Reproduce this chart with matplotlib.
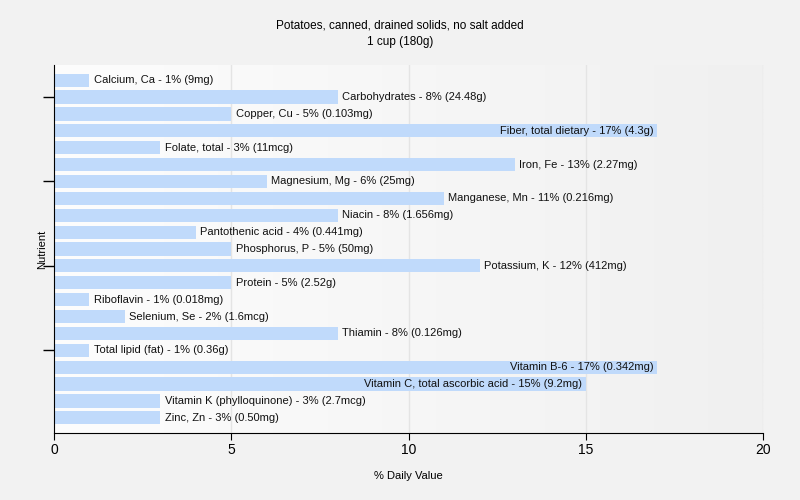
import numpy as np
import matplotlib
matplotlib.use("Agg")
import matplotlib.pyplot as plt

plt.rcParams['font.family'] = ['Liberation Sans', 'DejaVu Sans']

# dati
nutrienti = ["Calcium, Ca", "Carbohydrates", "Copper, Cu", "Fiber, total dietary",
             "Folate, total", "Iron, Fe", "Magnesium, Mg", "Manganese, Mn", "Niacin",
             "Pantothenic acid", "Phosphorus, P", "Potassium, K", "Protein", "Riboflavin",
             "Selenium, Se", "Thiamin", "Total lipid (fat)", "Vitamin B-6",
             "Vitamin C, total ascorbic acid", "Vitamin K (phylloquinone)", "Zinc, Zn"]
percentuali = [1, 8, 5, 17, 3, 13, 6, 11, 8, 4, 5, 12, 5, 1, 2, 8, 1, 17, 15, 3, 3]
quantita = ["9mg", "24.48g", "0.103mg", "4.3g", "11mcg", "2.27mg", "25mg", "0.216mg",
            "1.656mg", "0.441mg", "50mg", "412mg", "2.52g", "0.018mg", "1.6mcg",
            "0.126mg", "0.36g", "0.342mg", "9.2mg", "2.7mcg", "0.50mg"]

fig = plt.figure(figsize=(8, 5), dpi=100, facecolor='#f2f2f2')
ax = fig.add_axes([0.0675, 0.134, 0.8865, 0.736])

y = np.arange(len(nutrienti))
ax.set_xlim(0, 20)
ax.set_ylim(len(nutrienti) - 0.1, -0.9)

# sfondo sfumato
grad = np.linspace(0, 1, 256).reshape(1, -1)
ax.imshow(grad, extent=[0, 20, len(nutrienti) - 0.1, -0.9], aspect='auto',
          cmap=matplotlib.colors.LinearSegmentedColormap.from_list('g', ['#fdfdfd', '#f0f0f0']),
          zorder=0)

for xv in [5, 10, 15, 20]:
    ax.axvline(xv, color='#e4e4e4', lw=1, zorder=1)

ax.barh(y, percentuali, height=0.78, color='#c0dafb', zorder=2)

fig.canvas.draw()
rend = fig.canvas.get_renderer()
for i, (n, p, q) in enumerate(zip(nutrienti, percentuali, quantita)):
    testo = f"{n} - {p}% ({q})"
    t = ax.text(p + 0.12, i, testo, va='center', ha='left', fontsize=8, color='#111111', zorder=3)
    bb = t.get_window_extent(renderer=rend)
    if bb.x1 > ax.get_window_extent(renderer=rend).x1:
        t.set_x(p - 0.1)
        t.set_ha('right')

ax.set_yticks([1, 6, 11, 16])
ax.set_yticklabels([])
ax.tick_params(axis='y', length=8, width=1)
ax.set_xticks([0, 5, 10, 15, 20])
ax.tick_params(axis='x', length=5, labelsize=10, pad=2)
for s in ['top', 'right']:
    ax.spines[s].set_visible(False)
ax.set_xlabel('% Daily Value', fontsize=8, labelpad=10)
ax.set_ylabel('Nutrient', fontsize=8)
ax.yaxis.set_label_coords(-0.009, 0.5)

fig.suptitle('Potatoes, canned, drained solids, no salt added\n1 cup (180g)',
             fontsize=8.5, y=0.962, linespacing=1.5)

fig.savefig('out.png', dpi=100, facecolor=fig.get_facecolor())
